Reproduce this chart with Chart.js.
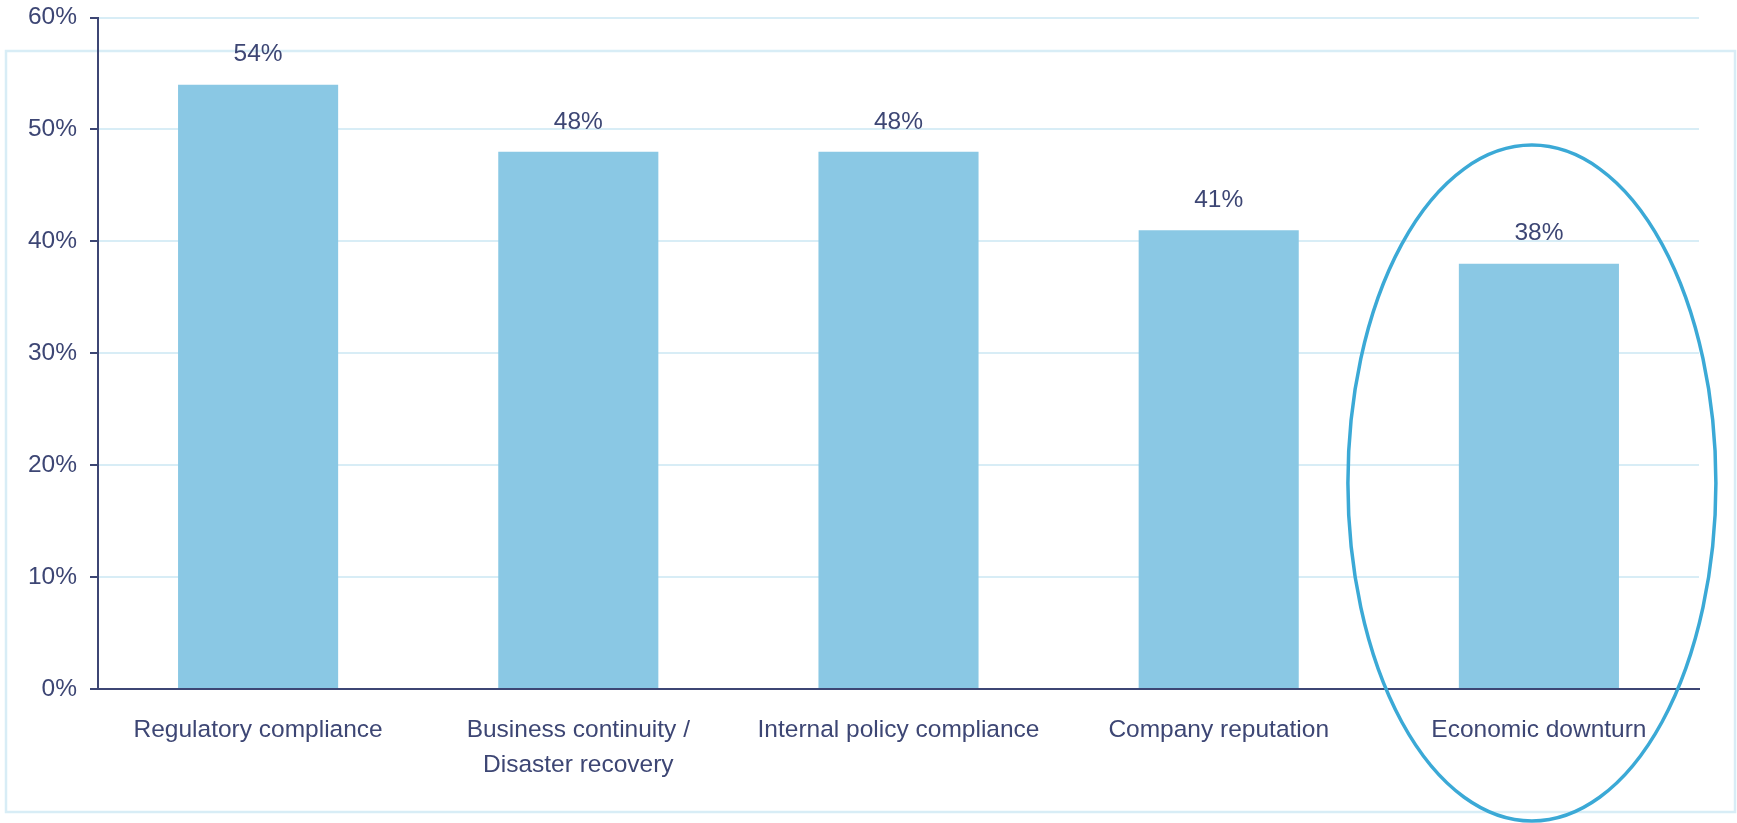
<!DOCTYPE html>
<html>
<head>
<meta charset="utf-8">
<script src="https://cdn.jsdelivr.net/npm/chart.js@4/dist/chart.umd.min.js"></script>
<style>
  html, body { margin: 0; padding: 0; background: #ffffff; }
  #wrap { width: 1737px; height: 823px; position: relative; }
  canvas { display: block; }
</style>
</head>
<body>
<div id="wrap"><canvas id="chart" width="1737" height="823"></canvas></div>
<script>
// Share of respondents naming each driver
const categories = [
  'Regulatory compliance',
  ['Business continuity /', 'Disaster recovery'],
  'Internal policy compliance',
  'Company reputation',
  'Economic downturn'
];
const shares = [54, 48, 48, 41, 38];
const yTicks = [0, 10, 20, 30, 40, 50, 60];
const highlightIndex = 4;

const NAVY = '#3d4674';
const BAR = '#8ac8e4';
const GRID = '#d8edf6';
const RING = '#3ba9d6';
const FONT = 'Arial, "Liberation Sans", sans-serif';

// Light framed panel behind the plot
const framePlugin = {
  id: 'frame',
  beforeDraw(chart) {
    const ctx = chart.ctx;
    ctx.save();
    ctx.fillStyle = '#ffffff';
    ctx.fillRect(0, 0, chart.width, chart.height);
    ctx.strokeStyle = GRID;
    ctx.lineWidth = 2.5;
    ctx.strokeRect(6, 51, chart.width - 8, 761);
    ctx.restore();
  }
};

// Percentage written above each bar
const valueLabels = {
  id: 'valueLabels',
  afterDatasetsDraw(chart) {
    const ctx = chart.ctx;
    const meta = chart.getDatasetMeta(0);
    ctx.save();
    ctx.font = '24.5px ' + FONT;
    ctx.fillStyle = NAVY;
    ctx.textAlign = 'center';
    ctx.textBaseline = 'middle';
    meta.data.forEach((bar, i) => {
      ctx.fillText(shares[i] + '%', bar.x, bar.y - 30);
    });
    ctx.restore();
  }
};

// Oval drawn round the highlighted category
const ringPlugin = {
  id: 'ring',
  afterDraw(chart) {
    const ctx = chart.ctx;
    const bar = chart.getDatasetMeta(0).data[highlightIndex];
    const top = chart.scales.y.getPixelForValue(48.6);
    const bottom = chart.height - 2;
    ctx.save();
    ctx.strokeStyle = RING;
    ctx.lineWidth = 3.5;
    ctx.beginPath();
    ctx.ellipse(bar.x - 7, (top + bottom) / 2, 184, (bottom - top) / 2, 0, 0, Math.PI * 2);
    ctx.stroke();
    ctx.restore();
  }
};

new Chart(document.getElementById('chart'), {
  type: 'bar',
  data: {
    labels: categories,
    datasets: [{
      data: shares,
      backgroundColor: BAR,
      borderWidth: 0,
      barPercentage: 0.5,
      categoryPercentage: 1.0
    }]
  },
  options: {
    responsive: false,
    animation: false,
    layout: { padding: { top: 17.5, right: 38, left: 0, bottom: 0 } },
    plugins: {
      legend: { display: false },
      tooltip: { enabled: false }
    },
    scales: {
      x: {
        grid: { display: false, drawTicks: false },
        border: { display: true, color: NAVY, width: 2 },
        ticks: {
          color: NAVY,
          font: { family: FONT, size: 24.5, lineHeight: 1.42 },
          padding: 24,
          maxRotation: 0,
          autoSkip: false
        },
        afterFit(scale) { scale.height = 134; }
      },
      y: {
        min: 0,
        max: 60,
        afterBuildTicks(scale) { scale.ticks = yTicks.map(v => ({ value: v })); },
        grid: {
          color: GRID,
          lineWidth: 2,
          drawTicks: true,
          tickLength: 8,
          tickColor: NAVY,
          tickWidth: 2
        },
        border: { display: true, color: NAVY, width: 2 },
        ticks: {
          color: NAVY,
          font: { family: FONT, size: 24.5 },
          padding: 13,
          callback: v => v + '%'
        },
        afterFit(scale) {
          scale.width = 98;
          scale.paddingTop = 0;
          scale.paddingBottom = 0;
        }
      }
    }
  },
  plugins: [framePlugin, valueLabels, ringPlugin]
});
</script>
</body>
</html>
